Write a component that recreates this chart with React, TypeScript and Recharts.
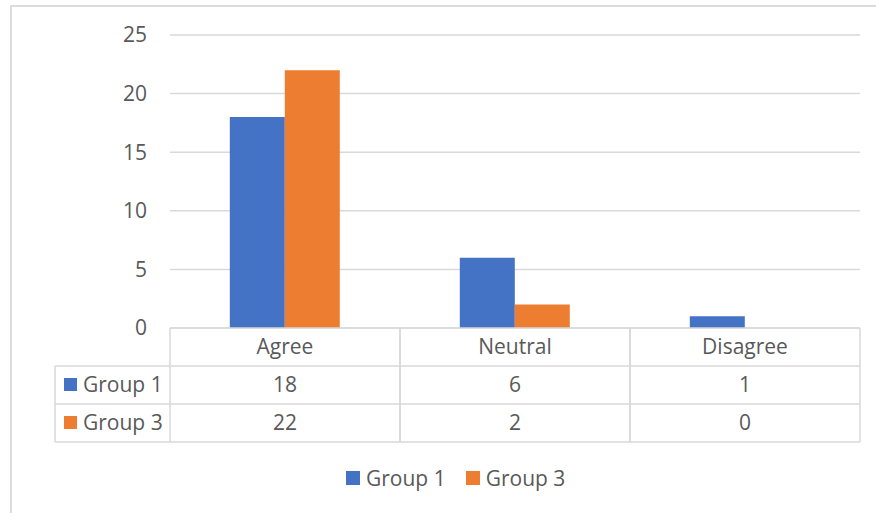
import React from 'react';
import { BarChart, Bar, XAxis, YAxis, CartesianGrid, Legend } from 'recharts';

const categories = ['Agree', 'Neutral', 'Disagree'];
const group1 = [18, 6, 1];
const group3 = [22, 2, 0];
const seriesNames = ['Group 1', 'Group 3'];
const seriesColors = ['#4472C4', '#ED7D31'];
const yTicks = [0, 5, 10, 15, 20, 25];

const data = categories.map((c, i) => ({ category: c, g1: group1[i], g3: group3[i] }));

const FONT = '"Open Sans", sans-serif';
const TEXT = '#595959';
const LINE = '#D9D9D9';
const ROW_H = 38;
const LEFT_COL = 115;
const FS = 21;

const TableTick = (props: any) => {
  const { x, y, payload, index } = props;
  const half = payload && payload.offset ? payload.offset : 115;
  const i = payload && typeof payload.index === 'number' ? payload.index : index;
  const left = x - half;
  const right = x + half;
  const rows = [categories[i], String(group1[i]), String(group3[i])];
  const ls = { stroke: LINE, strokeWidth: 1.5 };
  return (
    <g>
      <line x1={left} y1={y} x2={right} y2={y} {...ls} />
      <line x1={left} y1={y} x2={left} y2={y + 3 * ROW_H} {...ls} />
      <line x1={right} y1={y} x2={right} y2={y + 3 * ROW_H} {...ls} />
      {[1, 2, 3].map((r) => (
        <line key={r} x1={left} y1={y + r * ROW_H} x2={right} y2={y + r * ROW_H} {...ls} />
      ))}
      {rows.map((t, r) => (
        <text key={r} x={x} y={y + r * ROW_H + ROW_H / 2} dy="0.35em" textAnchor="middle"
          fill={TEXT} fontSize={FS} fontFamily={FONT}>{t}</text>
      ))}
      {i === 0 && (
        <g>
          <line x1={left - LEFT_COL} y1={y + ROW_H} x2={left - LEFT_COL} y2={y + 3 * ROW_H} {...ls} />
          {[1, 2, 3].map((r) => (
            <line key={r} x1={left - LEFT_COL} y1={y + r * ROW_H} x2={left} y2={y + r * ROW_H} {...ls} />
          ))}
          {seriesNames.map((n, k) => (
            <g key={n}>
              <rect x={left - 106} y={y + (k + 1) * ROW_H + ROW_H / 2 - 7} width={13} height={13} fill={seriesColors[k]} />
              <text x={left - 87} y={y + (k + 1) * ROW_H + ROW_H / 2} dy="0.35em" fill={TEXT}
                fontSize={FS} fontFamily={FONT}>{n}</text>
            </g>
          ))}
        </g>
      )}
    </g>
  );
};

const LegendContent = () => (
  <div style={{ display: 'flex', alignItems: 'center', fontFamily: FONT, fontSize: FS, color: TEXT, whiteSpace: 'nowrap' }}>
    {seriesNames.map((n, k) => (
      <div key={n} style={{ display: 'flex', alignItems: 'center', marginRight: k === 0 ? 20 : 0 }}>
        <div style={{ width: 14, height: 14, background: seriesColors[k], marginRight: 6 }} />
        <span>{n}</span>
      </div>
    ))}
  </div>
);

export default function App() {
  return (
    <div style={{ position: 'absolute', left: 0, top: 0, width: 876, height: 513, background: '#fff', overflow: 'hidden' }}>
      <div style={{ position: 'absolute', left: 10, top: 5, width: 880, height: 540, border: '2px solid #DCDCDC', boxSizing: 'border-box' }} />
      <BarChart width={876} height={513} data={data}
        margin={{ top: 35, right: 16, left: 0, bottom: 43 }}
        barCategoryGap="26%" barGap={0}>
        <CartesianGrid vertical={false} stroke={LINE} strokeWidth={1.5} />
        <XAxis dataKey="category" height={114} axisLine={false} tickLine={false}
          tickSize={0} tickMargin={0} interval={0} tick={<TableTick />} />
        <YAxis width={170} domain={[0, 25]} ticks={yTicks} axisLine={false} tickLine={false}
          tickSize={0} tickMargin={23} tick={{ fill: TEXT, fontSize: FS, fontFamily: FONT }} />
        <Legend content={<LegendContent />} wrapperStyle={{ position: 'absolute', left: 346, top: 464, width: 'auto' }} />
        <Bar dataKey="g1" name={seriesNames[0]} fill={seriesColors[0]} isAnimationActive={false} />
        <Bar dataKey="g3" name={seriesNames[1]} fill={seriesColors[1]} isAnimationActive={false} />
      </BarChart>
    </div>
  );
}
